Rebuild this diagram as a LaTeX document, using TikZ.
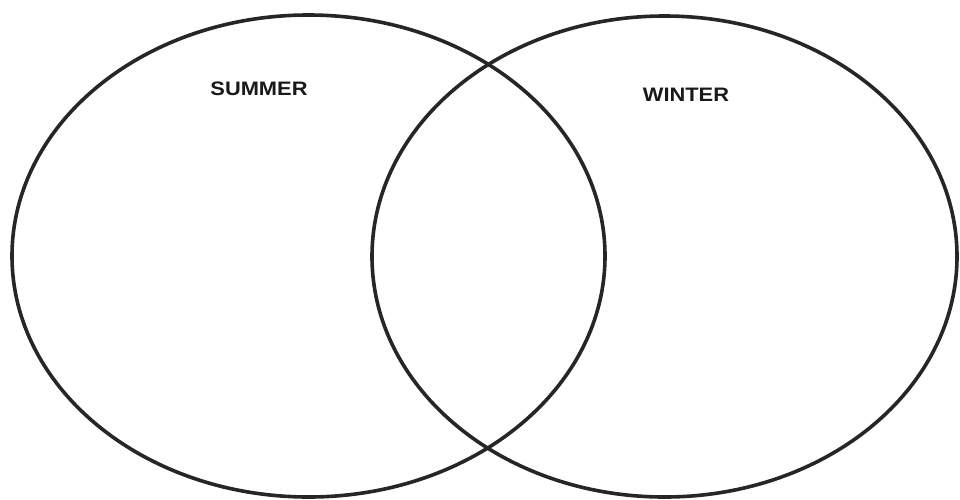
\documentclass[tikz,border=0pt]{standalone}
\usepackage{fontspec}
\setmainfont{Liberation Sans}
\newfontfamily\labelfont[FakeStretch=1.12]{Liberation Sans Bold}
\begin{document}
\begin{tikzpicture}[x=1pt,y=-1pt,
  vennset/.style={draw=black!85,line width=3.6pt},
  setlabel/.style={font=\labelfont\fontsize{19.5}{22}\selectfont,text=black!90,inner sep=0pt}]
\useasboundingbox (0,0) rectangle (960,499);
\draw[vennset] (308.5,256) ellipse [x radius=296.5, y radius=241];
\draw[vennset] (664.5,256.5) ellipse [x radius=292.5, y radius=240.5];
\node[setlabel] (summer) at (259,88.5) {SUMMER};
\node[setlabel] (winter) at (686,94.5) {WINTER};
\end{tikzpicture}
\end{document}
